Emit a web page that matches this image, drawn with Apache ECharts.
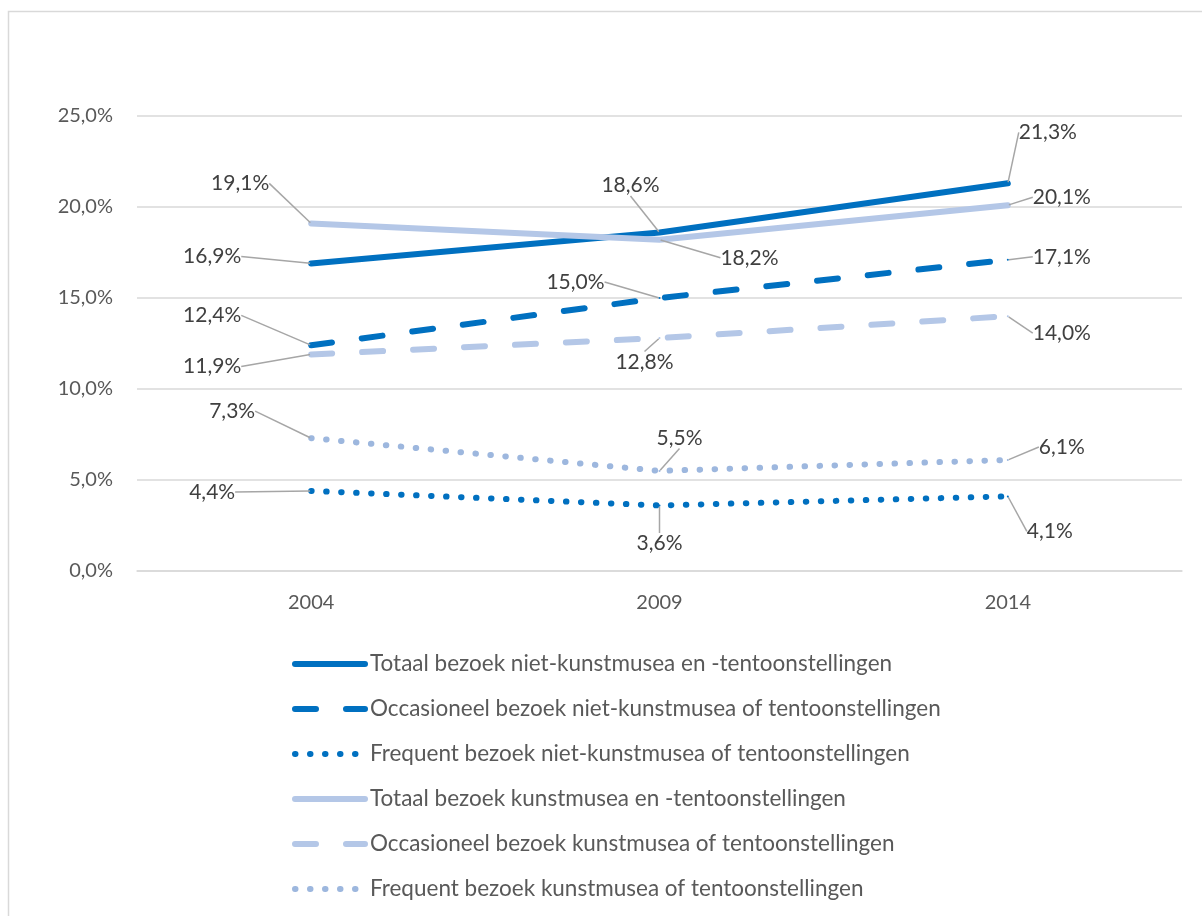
<!DOCTYPE html>
<html>
<head>
<meta charset="utf-8">
<script src="https://cdn.jsdelivr.net/npm/echarts@6/dist/echarts.min.js"></script>
<style>
html,body{margin:0;padding:0;background:#fff;}
#chart{width:1202px;height:916px;}
</style>
</head>
<body>
<div id="chart"></div>
<script>
var years = ['2004', '2009', '2014'];
var seriesNames = [
  'Totaal bezoek niet-kunstmusea en -tentoonstellingen',
  'Occasioneel bezoek niet-kunstmusea of tentoonstellingen',
  'Frequent bezoek niet-kunstmusea of tentoonstellingen',
  'Totaal bezoek kunstmusea en -tentoonstellingen',
  'Occasioneel bezoek kunstmusea of tentoonstellingen',
  'Frequent bezoek kunstmusea of tentoonstellingen'
];
var totaalNietKunst = [16.9, 18.6, 21.3];
var occasioneelNietKunst = [12.4, 15.0, 17.1];
var frequentNietKunst = [4.4, 3.6, 4.1];
var totaalKunst = [19.1, 18.2, 20.1];
var occasioneelKunst = [11.9, 12.8, 14.0];
var frequentKunst = [7.3, 5.5, 6.1];
var yTicks = [0, 5, 10, 15, 20, 25];

var seriesData = [totaalNietKunst, occasioneelNietKunst, frequentNietKunst, totaalKunst, occasioneelKunst, frequentKunst];

// label offsets (pixels from point to label centre)
var labelOffsets = [
  [[-99, -7], [-29, -47], [40, -51]],
  [[-99, -30], [-84, -16], [54, -3]],
  [[-99, 1], [0, 38], [42, 35]],
  [[-71, -40], [90, 18], [54, -8]],
  [[-99, 12], [-15, 24], [54, 17]],
  [[-79, -27], [20, -33], [54, -13]]
];

var DARK = '#0070C0', LIGHT = '#B4C7E7', LIGHTDOT = '#9DB7DE';
var DASH = [21, 30], DOT = [0.5, 14.5];
var styles = [
  {color: DARK, type: 'solid'},
  {color: DARK, type: DASH},
  {color: DARK, type: DOT},
  {color: LIGHT, type: 'solid'},
  {color: LIGHT, type: DASH},
  {color: LIGHTDOT, type: DOT}
];

function fmt(v) { return v.toFixed(1).replace('.', ',') + '%'; }

var FONT = 'Lato, "Liberation Sans", sans-serif';

var series = seriesNames.map(function (name, i) {
  return {
    name: name,
    type: 'line',
    data: seriesData[i],
    symbol: 'circle',
    symbolSize: 2,
    showSymbol: true,
    itemStyle: {color: styles[i].color},
    lineStyle: {color: styles[i].color, width: 6, type: styles[i].type, cap: 'round', join: 'round'},
    label: {
      show: true,
      position: 'inside',
      formatter: function (p) { return fmt(p.value); },
      color: '#404040',
      fontFamily: FONT,
      fontSize: 21
    },
    labelLine: {show: true, lineStyle: {color: '#A6A6A6', width: 1.5}},
    labelLayout: function (p) {
      var o = labelOffsets[p.seriesIndex][p.dataIndex];
      return {dx: o[0], dy: o[1], hideOverlap: false};
    },
    emphasis: {disabled: true},
    animation: false
  };
});

var legendData = seriesNames.map(function (name, i) {
  return {
    name: name,
    itemStyle: {opacity: 0},
    lineStyle: {color: styles[i].color, width: 6, type: styles[i].type, cap: 'round'}
  };
});

var chart = echarts.init(document.getElementById('chart'), null, {renderer: 'canvas'});
chart.setOption({
  animation: false,
  backgroundColor: '#fff',
  graphic: [{
    type: 'rect',
    shape: {x: 8.5, y: 11.5, width: 1400, height: 1200},
    style: {fill: 'none', stroke: '#D9D9D9', lineWidth: 1.5},
    silent: true,
    z: -10
  }],
  grid: {left: 137, right: 20, top: 116, bottom: 345, containLabel: false},
  xAxis: {
    type: 'category',
    data: years,
    boundaryGap: true,
    axisLine: {show: true, lineStyle: {color: '#D9D9D9', width: 1.5}},
    axisTick: {show: false},
    axisLabel: {color: '#595959', fontFamily: FONT, fontSize: 20, margin: 22}
  },
  yAxis: {
    type: 'value',
    min: yTicks[0],
    max: yTicks[yTicks.length - 1],
    interval: yTicks[1] - yTicks[0],
    axisLine: {show: false},
    axisTick: {show: false},
    splitLine: {lineStyle: {color: '#D9D9D9', width: 1.5}},
    axisLabel: {color: '#595959', fontFamily: FONT, fontSize: 20, margin: 24, formatter: function (v) { return fmt(v); }}
  },
  legend: {
    orient: 'vertical',
    left: 287,
    top: 646,
    itemWidth: 70,
    itemHeight: 14,
    itemGap: 19,
    selectedMode: false,
    itemStyle: {opacity: 0},
    textStyle: {color: '#595959', fontFamily: FONT, fontSize: 22.5, lineHeight: 26},
    data: legendData
  },
  series: series
});
</script>
</body>
</html>
